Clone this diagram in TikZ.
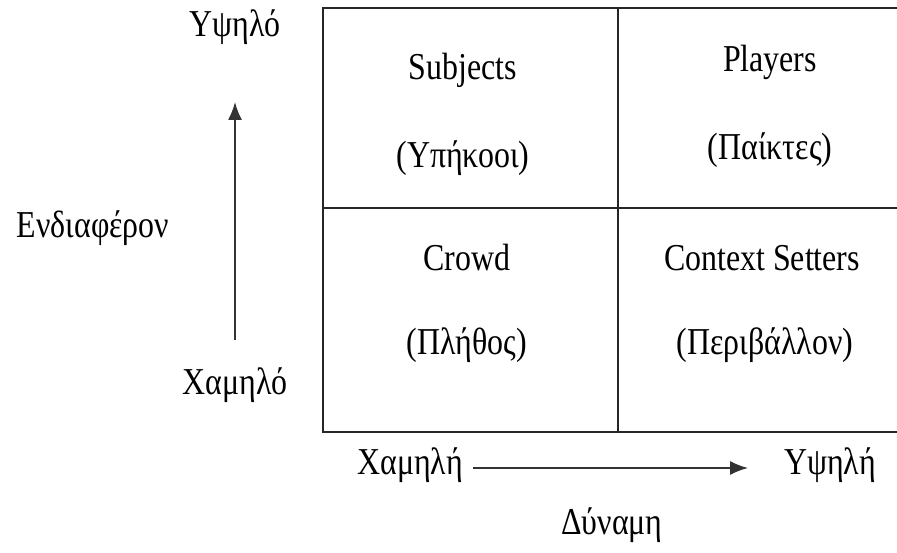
\documentclass[tikz,border=0pt]{standalone}
\usepackage{fontspec}
\setmainfont{Liberation Serif}[FakeStretch=0.84]
\usetikzlibrary{arrows.meta,positioning}

\begin{document}
\begin{tikzpicture}[x=1pt,y=-1pt, >={Latex[length=18pt,width=14pt]},
    every node/.style={font=\fontsize{38}{40}\selectfont, inner sep=0pt},
    grid/.style={draw=black!85, line width=2pt},
    axis/.style={->, line width=1.6pt, draw=black!80}]
   \useasboundingbox (0,0) rectangle (897,553);
   % the 2x2 grid
   \draw[grid] (897,8) -- (323,8) -- (323,432) -- (897,432);
   \draw[grid] (618,8) -- (618,432);
   \draw[grid] (323,208) -- (897,208);
   % quadrants
   \node (subj)    at (463,70)  {Subjects};
   \node (subjgr)  at (463,158) {(Υπήκοοι)};
   \node (play)    at (770,62)  {Players};
   \node (playgr)  at (770,150) {(Παίκτες)};
   \node (crowd)   at (467,258) {Crowd};
   \node (crowdgr) at (467,345) {(Πλήθος)};
   \node (ctx)     at (762,258) {Context Setters};
   \node (ctxgr)   at (765,345) {(Περιβάλλον)};
   % interest axis
   \node (inthigh) at (235,27)  {Υψηλό};
   \node (intlow)  at (235,385) {Χαμηλό};
   \node (interest) at (93,228) {Ενδιαφέρον};
   \coordinate (ibot) at (235,340);
   \coordinate (itop) at (235,102);
   \draw[axis] (ibot) -- (itop);
   % power axis
   \node (powlow)  at (410,465) {Χαμηλή};
   \node (powhigh) at (830,465) {Υψηλή};
   \node (power)   at (612,525) {Δύναμη};
   \coordinate (pleft)  at (473,468);
   \coordinate (pright) at (748,468);
   \draw[axis] (pleft) -- (pright);
\end{tikzpicture}
\end{document}
